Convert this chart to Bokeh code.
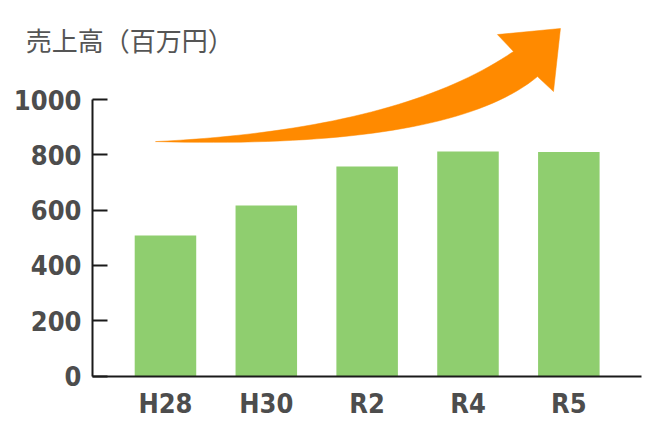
import numpy as np
from bokeh.plotting import figure
from bokeh.models import Range1d, FixedTicker, Label
from bokeh.embed import file_html
from bokeh.resources import INLINE

# ---- data ----
categories = ["H28", "H30", "R2", "R4", "R5"]
sales = [508, 617, 758, 812, 810]
y_ticks = [0, 200, 400, 600, 800, 1000]
title_text = "売上高（百万円）"

BAR_COLOR = "#8fce6f"
ARROW_COLOR = "#ff8a00"
TEXT_COLOR = "#4d4d4d"
TICK_FONT = "DejaVu Sans Condensed"

positions = list(range(len(categories)))

p = figure(x_range=Range1d(-1.616, 4.790), y_range=Range1d(-168, 1351),
           width=650, height=424, output_backend="svg", toolbar_location=None,
           min_border_left=2, min_border_right=2, min_border_top=2,
           min_border_bottom=2)
p.outline_line_color = None
p.xgrid.visible = False
p.ygrid.visible = False

p.vbar(x=positions, top=sales, width=0.61, fill_color=BAR_COLOR, line_color=None)

# decorative rising arrow
def qbez(p0, c, p1, n=40):
    t = np.linspace(0, 1, n)
    x = (1 - t) ** 2 * p0[0] + 2 * (1 - t) * t * c[0] + t ** 2 * p1[0]
    y = (1 - t) ** 2 * p0[1] + 2 * (1 - t) * t * c[1] + t ** 2 * p1[1]
    return list(x), list(y)

S = (-0.099, 848)
C_up = (2.320, 891)
U = (3.451, 1174)
A = (3.292, 1235)
T = (3.917, 1257)
B = (3.848, 1029)
L = (3.689, 1083)
C_lo = (2.816, 819)

ux, uy = qbez(S, C_up, U)
lx, ly = qbez(L, C_lo, S)
ax = ux + [A[0], T[0], B[0]] + lx
ay = uy + [A[1], T[1], B[1]] + ly
p.patch(ax, ay, fill_color=ARROW_COLOR, line_color=ARROW_COLOR, line_width=0.5)

# axes
yax = p.yaxis[0]
yax.fixed_location = -0.724
yax.ticker = FixedTicker(ticks=y_ticks)
yax.bounds = (0, 1000)
yax.axis_line_color = "#1a1a1a"
yax.axis_line_width = 2
yax.major_tick_line_color = "#1a1a1a"
yax.major_tick_line_width = 2
yax.major_tick_in = 15
yax.major_tick_out = 0
yax.minor_tick_line_color = None
yax.major_label_standoff = 11
yax.major_label_text_font = TICK_FONT
yax.major_label_text_font_style = "bold"
yax.major_label_text_font_size = "27px"
yax.major_label_text_color = TEXT_COLOR

xax = p.xaxis[0]
xax.fixed_location = 0
xax.ticker = FixedTicker(ticks=positions)
xax.major_label_overrides = {i: c for i, c in zip(positions, categories)}
xax.bounds = (-0.724, 4.720)
xax.axis_line_color = "#1a1a1a"
xax.axis_line_width = 2
xax.major_tick_line_color = None
xax.minor_tick_line_color = None
xax.major_tick_in = 0
xax.major_tick_out = 0
xax.major_label_standoff = 12
xax.major_label_text_font = TICK_FONT
xax.major_label_text_font_style = "bold"
xax.major_label_text_font_size = "27px"
xax.major_label_text_color = TEXT_COLOR

title = Label(x=-1.385, y=1217, text=title_text, text_font="Noto Sans CJK JP",
              text_font_size="26px", text_color="#555555", text_baseline="middle",
              text_align="left")
p.add_layout(title)

open("out.html", "w").write(file_html(p, INLINE))
